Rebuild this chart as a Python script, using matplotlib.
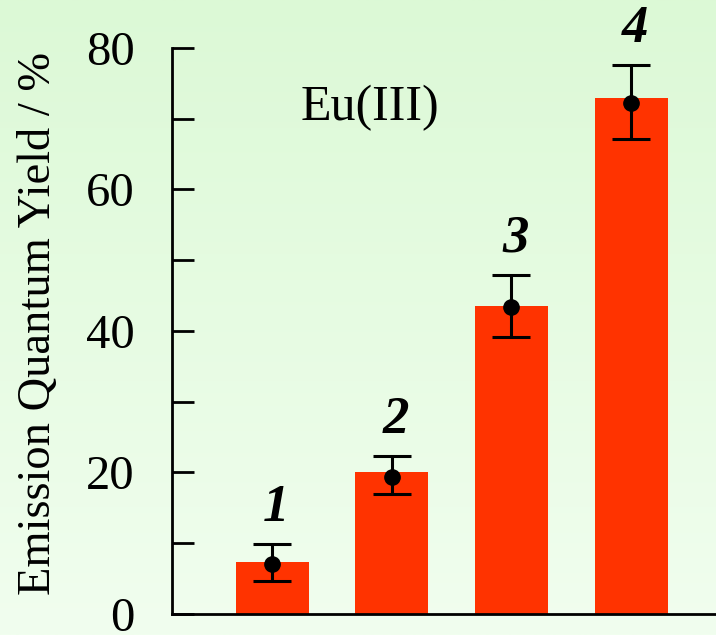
import matplotlib
matplotlib.use('Agg')
import matplotlib.pyplot as plt
import numpy as np

plt.rcParams['font.family'] = ['Liberation Serif', 'DejaVu Serif']

# data
bar_labels = ['1', '2', '3', '4']
bar_heights = [7.3, 20.1, 43.6, 72.9]
point_values = [7.1, 19.4, 43.4, 72.2]
err_lower = [2.5, 2.4, 4.3, 5.0]
err_upper = [2.75, 2.9, 4.5, 5.4]
y_ticks = [0, 20, 40, 60, 80]
y_minor = [10, 30, 50, 70]

x = np.arange(1, len(bar_labels) + 1)

fig = plt.figure(figsize=(7.16, 6.35), dpi=100)

# pale green background gradient
bg = fig.add_axes([0, 0, 1, 1], zorder=-10)
top_col = np.array([220, 249, 214]) / 255
bot_col = np.array([241, 254, 239]) / 255
t = np.linspace(0, 1, 256)[:, None, None]
grad = top_col * (1 - t) + bot_col * t
bg.imshow(grad, aspect='auto', extent=[0, 1, 0, 1])
bg.axis('off')

ax = fig.add_axes([0.2402, 0.0331, 0.7598, 0.8913])
ax.set_facecolor('none')

ax.bar(x, bar_heights, width=0.61, color='#FF3300', zorder=2)
ax.errorbar(x, point_values, yerr=[err_lower, err_upper], fmt='o', color='black',
            markersize=11, elinewidth=2.2, capsize=14, capthick=2.2, zorder=3)

for xi, v, up, lab in zip(x, point_values, err_upper, bar_labels):
    ax.annotate(lab, (xi, v + up), xytext=(3, 26), textcoords='offset points',
                ha='center', va='center', fontsize=38, fontweight='bold',
                fontstyle='italic')

ax.text(1.82, 71.5, 'Eu(III)', fontsize=36, ha='center', va='center')

ax.set_xlim(0.164, 4.71)
ax.set_ylim(0, 80)
ax.set_xticks([])
ax.set_yticks(y_ticks)
ax.set_yticks(y_minor, minor=True)
ax.tick_params(axis='y', which='both', direction='in', length=16, width=2,
               labelsize=35, pad=27)
ax.tick_params(axis='y', which='minor', labelleft=False)

for side in ['top', 'right']:
    ax.spines[side].set_visible(False)
for side in ['left', 'bottom']:
    ax.spines[side].set_linewidth(2)

ax.set_ylabel('Emission Quantum Yield / %', fontsize=33.5)
ax.yaxis.set_label_coords(-0.205, 0.514)

fig.savefig('out.png', dpi=100)
